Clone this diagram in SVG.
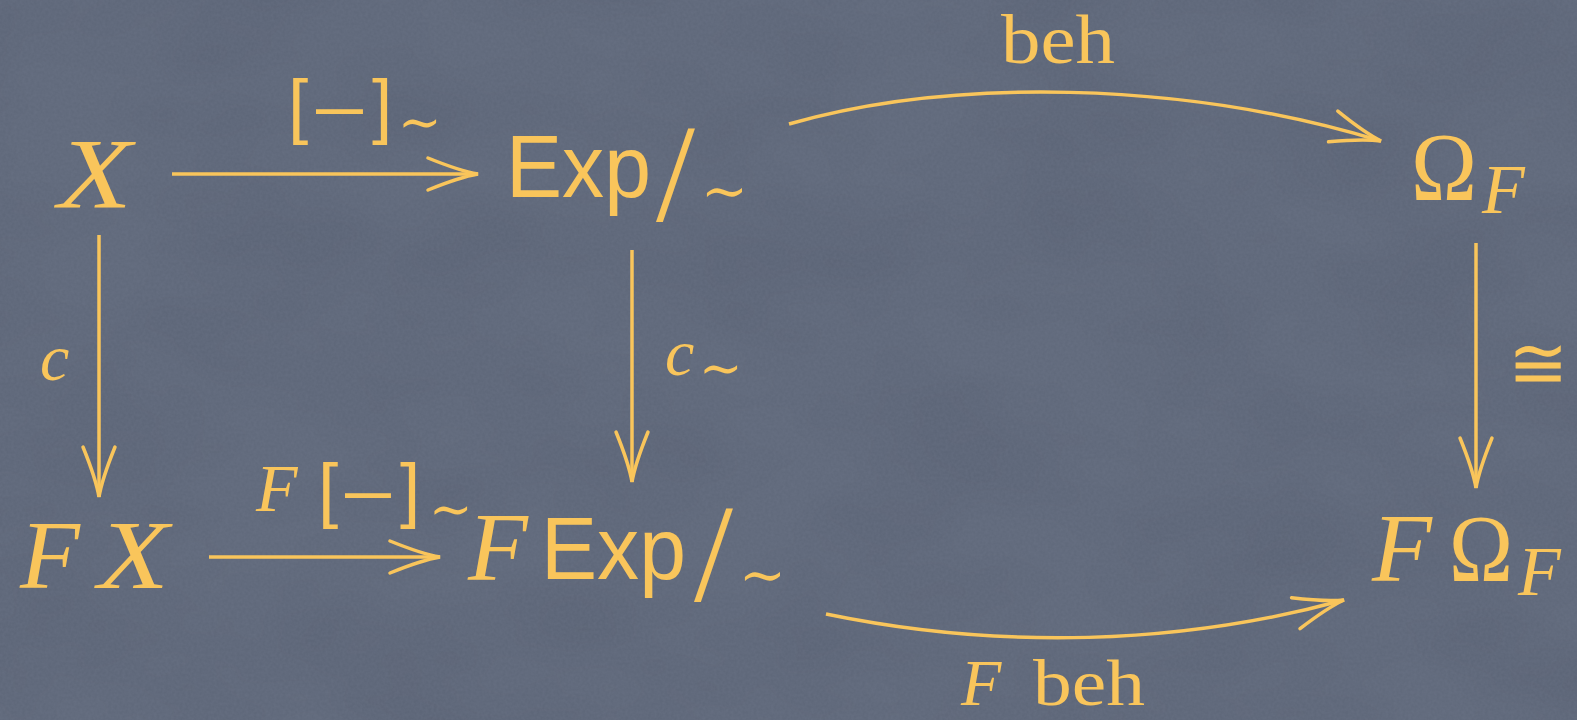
<svg xmlns="http://www.w3.org/2000/svg" width="1577" height="720" viewBox="0 0 1577 720">
  <defs>
    <filter id="tex" x="0" y="0" width="100%" height="100%" color-interpolation-filters="sRGB">
      <feTurbulence type="fractalNoise" baseFrequency="0.006 0.01" numOctaves="3" seed="11" result="big"/>
      <feColorMatrix in="big" type="matrix" values="0 0 0 0 0.30  0 0 0 0 0.33  0 0 0 0 0.40  0 0 0 0.40 -0.12" result="bigc"/>
      <feTurbulence type="fractalNoise" baseFrequency="0.35" numOctaves="2" seed="3" result="fine"/>
      <feColorMatrix in="fine" type="matrix" values="0 0 0 0 0.50  0 0 0 0 0.53  0 0 0 0 0.61  0 0 0 0.25 -0.06" result="finec"/>
      <feMerge>
        <feMergeNode in="SourceGraphic"/>
        <feMergeNode in="bigc"/>
        <feMergeNode in="finec"/>
      </feMerge>
    </filter>
    <marker id="ah" markerUnits="userSpaceOnUse" orient="auto" viewBox="-54 -20 58 40" refX="0" refY="0" markerWidth="58" markerHeight="40" overflow="visible">
      <path d="M-50,-16 Q-18,-3 0,0 Q-18,3 -50,16" fill="none" stroke="#F9C55B" stroke-width="3.5" stroke-linecap="round"/>
    </marker>
    <style>
      .m { font-family: "Liberation Serif", serif; font-style: italic; fill: #F9C55B; }
      .r { font-family: "Liberation Serif", serif; fill: #F9C55B; }
      .s { font-family: "Liberation Sans", sans-serif; fill: #F9C55B; }
      .t { font-family: "DejaVu Serif", serif; fill: #F9C55B; }
      .e { fill: none; stroke: #F9C55B; stroke-width: 3.5; marker-end: url(#ah); }
    </style>
  </defs>
  <rect width="1577" height="720" fill="#616A7C" filter="url(#tex)"/>

  <g id="connectors">
    <path class="e" d="M172,174 L478,174"/>
    <path class="e" d="M209,557 L440,557"/>
    <path class="e" d="M99,235 L99,497"/>
    <path class="e" d="M632,250 L632,482"/>
    <path class="e" d="M1476,243 L1476,488"/>
    <path class="e" d="M789,124 C950,78 1180,80 1381,141"/>
    <path class="e" d="M826,614 C1000,650 1180,645 1344,600"/>
    <text class="s" x="288" y="130" font-size="73">[</text>
    <text class="s" x="316" y="130" font-size="73" textLength="47" lengthAdjust="spacingAndGlyphs">–</text>
    <text class="s" x="372" y="130" font-size="73">]</text>
    <text class="t" x="398" y="140" font-size="52">∼</text>
    <text class="m" x="256" y="511" font-size="68">F</text>
    <text class="s" x="318" y="514" font-size="73">[</text>
    <text class="s" x="345" y="514" font-size="73" textLength="46" lengthAdjust="spacingAndGlyphs">–</text>
    <text class="s" x="400" y="514" font-size="73">]</text>
    <text class="t" x="429" y="527" font-size="52">∼</text>
    <text class="m" x="40" y="380" font-size="66">c</text>
    <text class="m" x="665" y="375" font-size="66">c</text>
    <text class="t" x="699" y="386" font-size="52">∼</text>
    <text class="t" x="1508" y="388" font-size="72">≅</text>
    <text class="r" x="1001" y="63" font-size="70" textLength="114" lengthAdjust="spacingAndGlyphs">beh</text>
    <text class="m" x="961" y="705" font-size="66">F</text>
    <text class="r" x="1033" y="705" font-size="66" textLength="112" lengthAdjust="spacingAndGlyphs">beh</text>
  </g>

  <g id="node-X">
    <text class="m" x="58" y="207" font-size="100" textLength="74" lengthAdjust="spacingAndGlyphs">X</text>
  </g>
  <g id="node-Exp">
    <text class="s" x="506" y="197" font-size="89" textLength="145" lengthAdjust="spacingAndGlyphs">Exp</text>
    <text class="r" x="656" y="221" font-size="140">/</text>
    <text class="t" x="701" y="210" font-size="56">∼</text>
  </g>
  <g id="node-Omega">
    <text class="r" x="1411" y="200" font-size="98" textLength="66" lengthAdjust="spacingAndGlyphs">Ω</text>
    <text class="m" x="1482" y="213" font-size="70">F</text>
  </g>
  <g id="node-FX">
    <text class="m" x="20" y="588" font-size="98">F</text>
    <text class="m" x="98" y="588" font-size="98" textLength="71" lengthAdjust="spacingAndGlyphs">X</text>
  </g>
  <g id="node-FExp">
    <text class="m" x="468" y="580" font-size="98">F</text>
    <text class="s" x="541" y="579" font-size="89" textLength="145" lengthAdjust="spacingAndGlyphs">Exp</text>
    <text class="r" x="694" y="601" font-size="140">/</text>
    <text class="t" x="739" y="594" font-size="56">∼</text>
  </g>
  <g id="node-FOmega">
    <text class="m" x="1372" y="581" font-size="98">F</text>
    <text class="r" x="1449" y="581" font-size="96" textLength="64" lengthAdjust="spacingAndGlyphs">Ω</text>
    <text class="m" x="1518" y="595" font-size="70">F</text>
  </g>
</svg>
